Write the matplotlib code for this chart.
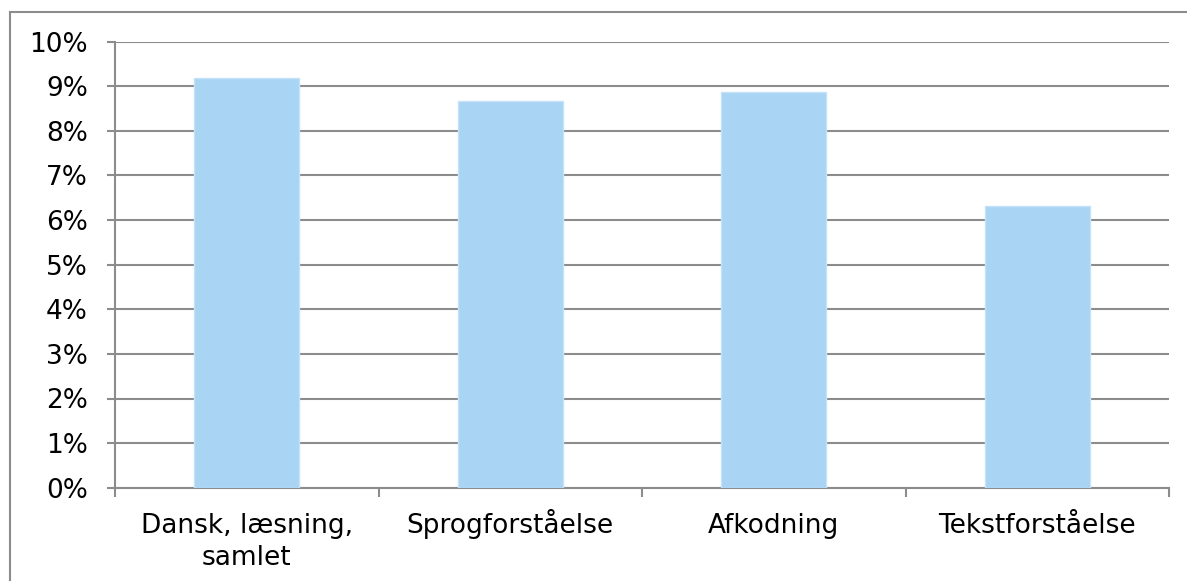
import matplotlib
matplotlib.use("Agg")
import matplotlib.pyplot as plt
from matplotlib.lines import Line2D
from matplotlib.ticker import FixedLocator, PercentFormatter, NullFormatter

categories = ["Dansk, læsning,\nsamlet", "Sprogforståelse", "Afkodning", "Tekstforståelse"]
values = [9.19, 8.67, 8.87, 6.31]
yticks = list(range(0, 11))

fig = plt.figure(figsize=(11.87, 5.81), dpi=100)
ax = fig.add_axes([115/1187, 1-487.7/581, (1169-115)/1187, (487.7-41.7)/581])

grid_c = "#8c8c8c"
x = list(range(len(categories)))
ax.bar(x, values, width=0.40, color="#a9d4f4", edgecolor="#c4e2f8", linewidth=1, zorder=3)

ax.set_xlim(-0.5, len(categories)-0.5)
ax.set_ylim(0, 10)
ax.set_yticks(yticks)
ax.yaxis.set_major_formatter(PercentFormatter(decimals=0))
ax.grid(axis="y", color=grid_c, linewidth=1.5, zorder=0)
ax.set_xticks(x)
ax.xaxis.set_major_formatter(NullFormatter())
for xi, lab in zip(x, categories):
    for k, line in enumerate(lab.split("\n")):
        ax.annotate(line, xy=(xi, 0), xycoords=("data", "axes fraction"),
                    xytext=(0, -(45 + 32*k)*0.72), textcoords="offset points",
                    ha="center", va="baseline", fontsize=19)
ax.xaxis.set_minor_locator(FixedLocator([-0.5, 0.5, 1.5, 2.5, 3.5]))
ax.tick_params(axis="x", which="major", length=0)
ax.tick_params(axis="x", which="minor", length=6.5, color=grid_c, width=1.5)
ax.tick_params(axis="y", length=6, color=grid_c, width=1.5, labelsize=19, pad=13.5)
for s in ["top", "right"]:
    ax.spines[s].set_visible(False)
for s in ["left", "bottom"]:
    ax.spines[s].set_color(grid_c)
    ax.spines[s].set_linewidth(1.5)

fy = 1 - 12/581
fx = 10/1187
fig.add_artist(Line2D([fx, fx], [0, fy], transform=fig.transFigure, color=grid_c, linewidth=1.5))
fig.add_artist(Line2D([fx, 1], [fy, fy], transform=fig.transFigure, color=grid_c, linewidth=1.5))
fig.savefig("out.png", dpi=100)
